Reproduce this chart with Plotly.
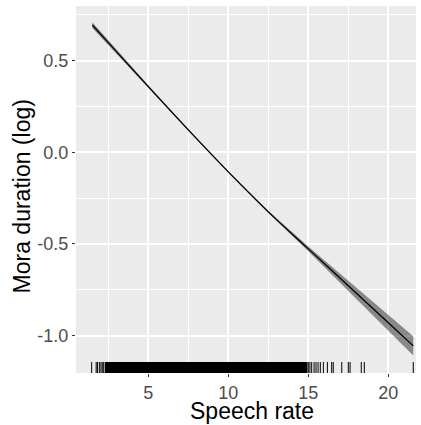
import plotly.graph_objects as go

# Fitted smooth
fit_x = [1.5, 2.5, 5, 7.5, 10, 12.5, 15, 17.5, 20, 21.56]
fit_y = [0.694, 0.598, 0.358, 0.122, -0.107, -0.325, -0.527, -0.728, -0.93, -1.056]
fit_se = [0.016, 0.013, 0.008, 0.005, 0.004, 0.006, 0.013, 0.027, 0.042, 0.052]

# Rug (speech-rate observations)
rug_sparse = [1.46, 1.74, 1.82, 1.94, 2.04, 2.12, 2.21,
              15.0, 15.1, 15.21, 15.36, 15.48, 15.61, 15.75, 15.94, 16.19,
              16.46, 16.56, 17.09, 17.5, 17.61, 18.31, 18.5, 21.56]
rug_dense = [2.28, 14.95]

x_ticks = [5, 10, 15, 20]
x_ticktext = ["5", "10", "15", "20"]
y_ticks = [-1.0, -0.5, 0.0, 0.5]
y_ticktext = ["-1.0", "-0.5", "0.0", "0.5"]
x_title = "Speech rate"
y_title = "Mora duration (log)"

upper = [y + s for y, s in zip(fit_y, fit_se)]
lower = [y - s for y, s in zip(fit_y, fit_se)]

fig = go.Figure()
fig.add_trace(go.Scatter(x=fit_x + fit_x[::-1], y=upper + lower[::-1],
                         fill="toself", fillcolor="rgba(0,0,0,0.42)",
                         line=dict(width=0), mode="lines", hoverinfo="skip",
                         showlegend=False))
fig.add_trace(go.Scatter(x=fit_x, y=fit_y, mode="lines",
                         line=dict(color="black", width=1.3, shape="spline"),
                         showlegend=False))

shapes = []
shapes.append(dict(type="rect", xref="x", yref="y domain",
                   x0=rug_dense[0], x1=rug_dense[1], y0=0, y1=0.03,
                   fillcolor="black", line=dict(width=0), layer="above"))
for v in rug_sparse:
    shapes.append(dict(type="line", xref="x", yref="y domain",
                       x0=v, x1=v, y0=0, y1=0.03,
                       line=dict(color="black", width=1), layer="above"))

font_family = "Liberation Sans, Arial, sans-serif"
annotations = [
    dict(text=x_title, xref="paper", yref="paper", x=0.518, y=-0.103,
         xanchor="center", yanchor="middle", showarrow=False,
         font=dict(size=23, color="black", family=font_family)),
    dict(text=y_title, xref="paper", yref="paper", x=-0.16, y=0.48,
         xanchor="center", yanchor="middle", showarrow=False, textangle=-90,
         font=dict(size=23, color="black", family=font_family)),
]

fig.update_layout(
    width=421, height=425,
    margin=dict(l=76, r=5, t=6, b=52),
    paper_bgcolor="white", plot_bgcolor="#EBEBEB",
    shapes=shapes, annotations=annotations,
    font=dict(family=font_family),
    xaxis=dict(range=[0.48, 21.73], tickvals=x_ticks, ticktext=x_ticktext,
               automargin=False,
               showgrid=True, gridcolor="white", gridwidth=1.6,
               minor=dict(dtick=2.5, tick0=0, showgrid=True, gridcolor="white", gridwidth=0.8),
               ticks="outside", ticklen=3, tickcolor="#333333", tickwidth=1,
               tickfont=dict(size=18, color="#4D4D4D", family=font_family),
               zeroline=False, showline=False),
    yaxis=dict(range=[-1.204, 0.798], tickvals=y_ticks, ticktext=y_ticktext,
               automargin=False,
               showgrid=True, gridcolor="white", gridwidth=1.6,
               minor=dict(dtick=0.25, tick0=0, showgrid=True, gridcolor="white", gridwidth=0.8),
               ticks="outside", ticklen=3, tickcolor="#333333", tickwidth=1,
               tickfont=dict(size=18, color="#4D4D4D", family=font_family),
               zeroline=False, showline=False),
)
fig.write_html("out.html")
